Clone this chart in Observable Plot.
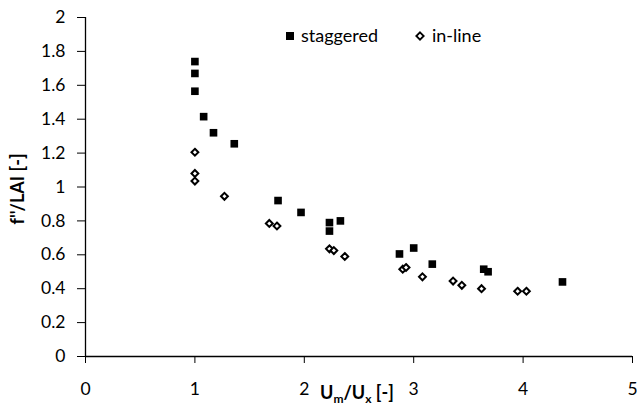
<!DOCTYPE html>
<html>
<head>
<meta charset="utf-8">
<script src="https://cdn.jsdelivr.net/npm/d3@7"></script>
<script src="https://cdn.jsdelivr.net/npm/@observablehq/plot@0.6"></script>
<style>
  html, body { margin: 0; padding: 0; background: #fff; }
  #wrap { position: relative; width: 637px; height: 405px; font-family: Lato, "Open Sans", sans-serif; }
  #wrap > svg { display: block; }
  .lg { position: absolute; font-size: 18px; color: #000; white-space: nowrap; line-height: 1; }
  .lg svg { display: block; }
</style>
</head>
<body>
<div id="wrap"></div>
<script>
const seriesNames = ["staggered", "in-line"];

const staggeredX = [1.00, 1.00, 1.00, 1.08, 1.17, 1.36, 1.76, 1.97, 2.23, 2.23, 2.33, 2.87, 3.00, 3.17, 3.64, 3.68, 4.36];
const staggeredY = [1.74, 1.67, 1.565, 1.415, 1.32, 1.255, 0.92, 0.85, 0.79, 0.74, 0.80, 0.605, 0.64, 0.545, 0.515, 0.50, 0.44];

const inlineX = [1.00, 1.00, 1.00, 1.27, 1.68, 1.75, 2.23, 2.27, 2.37, 2.90, 2.93, 3.08, 3.36, 3.44, 3.62, 3.95, 4.03];
const inlineY = [1.205, 1.08, 1.035, 0.945, 0.785, 0.77, 0.635, 0.625, 0.59, 0.515, 0.525, 0.47, 0.445, 0.42, 0.40, 0.385, 0.385];

const xTicks = [0, 1, 2, 3, 4, 5];
const yTicks = [0, 0.2, 0.4, 0.6, 0.8, 1, 1.2, 1.4, 1.6, 1.8, 2];

const staggered = staggeredX.map((x, i) => ({x, y: staggeredY[i]}));
const inline = inlineX.map((x, i) => ({x, y: inlineY[i]}));

const chart = Plot.plot({
  width: 637,
  height: 405,
  marginLeft: 85,
  marginRight: 5,
  marginTop: 17,
  marginBottom: 49,
  style: {fontFamily: "Lato, 'Open Sans', sans-serif", fontSize: "17.5px", color: "#000", background: "#fff"},
  x: {domain: [0, 5]},
  y: {domain: [0, 2]},
  marks: [
    Plot.axisX({ticks: xTicks, tickSize: 7, tickPadding: 19, tickFormat: d => String(d), label: null, stroke: "#000"}),
    Plot.axisY({ticks: yTicks, tickSize: 8, tickPadding: 12, tickFormat: d => String(d), label: null, stroke: "#000"}),
    Plot.ruleY([0], {stroke: "#000", strokeWidth: 1.3}),
    Plot.ruleX([0], {stroke: "#000", strokeWidth: 1.3}),
    Plot.dot(inline, {x: "x", y: "y", symbol: "diamond2", r: 3.1, fill: "#fff", stroke: "#000", strokeWidth: 2}),
    Plot.dot(staggered, {x: "x", y: "y", symbol: "square", r: 4.3, fill: "#000", stroke: "none"})
  ]
});

document.getElementById("wrap").appendChild(chart);

const svg = d3.select(chart);
// y-axis title
svg.append("text")
  .attr("transform", "translate(24,189) rotate(-90)")
  .attr("text-anchor", "middle")
  .attr("font-weight", "bold")
  .attr("font-size", 18)
  .attr("fill", "#000")
  .text("f''/LAI [-]");
// x-axis title with subscripts
const xt = svg.append("text")
  .attr("x", 320)
  .attr("y", 399)
  .attr("text-anchor", "start")
  .attr("font-weight", "bold")
  .attr("font-size", 18)
  .attr("fill", "#000");
xt.append("tspan").text("U");
xt.append("tspan").attr("font-size", 12).attr("dy", 4).text("m");
xt.append("tspan").attr("dy", -4).text("/U");
xt.append("tspan").attr("font-size", 12).attr("dy", 4).text("x");
xt.append("tspan").attr("dy", -4).text(" [-]");

// legend
const wrap = document.getElementById("wrap");
function addLegend(html, left, top) {
  const d = document.createElement("div");
  d.className = "lg";
  d.style.left = left + "px";
  d.style.top = top + "px";
  d.innerHTML = html;
  wrap.appendChild(d);
}
addLegend(`<svg width="10" height="10"><rect x="1" y="1" width="8" height="8" fill="#000"/></svg>`, 285, 31);
addLegend(seriesNames[0], 301, 26);
addLegend(`<svg width="10" height="10"><path d="M5,1.3L8.7,5L5,8.7L1.3,5Z" fill="#fff" stroke="#000" stroke-width="1.8"/></svg>`, 415, 31);
addLegend(seriesNames[1], 432, 26);
</script>
</body>
</html>
